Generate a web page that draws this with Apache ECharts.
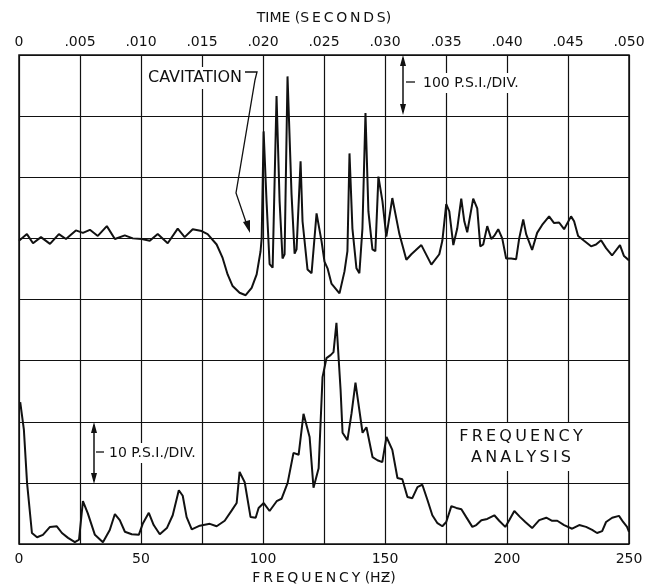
<!DOCTYPE html>
<html>
<head>
    <meta charset="utf-8">
    <title>Cavitation pressure trace</title>
    <script src="https://cdn.jsdelivr.net/npm/echarts@6/dist/echarts.min.js"></script>
    <style type="text/css">
        html, body { margin: 0; padding: 0; background: #fff; }
        #main { width: 648px; height: 585px; }
    </style>
</head>
<body>
    <div id="main"></div>
    <script type="text/javascript">
        // pressure vs time (seconds, psi) - upper trace
        var timeSec = [0, 0.00065, 0.00115, 0.0018, 0.00254, 0.00327, 0.00385, 0.00466, 0.00524, 0.00581,
            0.00646, 0.0072, 0.00786, 0.00867, 0.00933, 0.01007, 0.01072, 0.01137, 0.01219, 0.01301,
            0.01358, 0.01424, 0.01497, 0.01546, 0.0162, 0.01669, 0.0171, 0.01751, 0.01808, 0.01858,
            0.01907, 0.01948, 0.0198, 0.01989, 0.02005, 0.02029, 0.02054, 0.02079, 0.02111, 0.02136,
            0.0216, 0.02177, 0.02201, 0.02234, 0.02259, 0.02275, 0.02308, 0.02324, 0.02365, 0.02398,
            0.02439, 0.0248, 0.02504, 0.02529, 0.02561, 0.02627, 0.02668, 0.02692, 0.02709, 0.02733,
            0.02766, 0.0279, 0.02815, 0.0284, 0.02864, 0.02897, 0.02921, 0.02946, 0.02979, 0.03011,
            0.0306, 0.03118, 0.03175, 0.03216, 0.03249, 0.03298, 0.0338, 0.03445, 0.0347, 0.03502,
            0.03527, 0.0356, 0.03592, 0.03625, 0.0365, 0.03674, 0.03723, 0.03756, 0.03781, 0.03805,
            0.03838, 0.03871, 0.03895, 0.03928, 0.03961, 0.03993, 0.04034, 0.04075, 0.041, 0.04133,
            0.04157, 0.04206, 0.04247, 0.04288, 0.04345, 0.04386, 0.04427, 0.04468, 0.04525, 0.0455,
            0.04583, 0.04632, 0.04689, 0.0473, 0.04771, 0.04812, 0.04861, 0.04926, 0.04959, 0.050];
        var timePsi = [-4, 7, -8, 2, -9, 7, -1, 13, 9, 14,
            4, 20, -1, 5, 0, -1, -4, 7, -8, 16,
            2, 15, 12, 7, -10, -32, -59, -78, -89, -93,
            -81, -59, -21, 0, 175, 61, -42, -48, 233, 61,
            -33, -26, 265, 72, -25, -18, 126, 28, -51, -57,
            41, -5, -38, -49, -74, -90, -54, -21, 139, 16,
            -49, -57, 16, 205, 44, -18, -21, 101, 61, 3,
            66, 7, -35, -26, -20, -11, -43, -26, -4, 56,
            44, -11, 16, 65, 28, 10, 65, 49, -13, -10,
            20, -1, 4, 15, 0, -33, -33, -34, 0, 31,
            7, -19, 9, 22, 36, 25, 26, 15, 36, 28,
            4, -4, -13, -10, -3, -16, -28, -11, -29, -36];

        // frequency analysis (Hz, psi) - lower trace
        var freqHz = [0.5, 2.0, 3.3, 5.3, 7.4, 9.8, 12.7, 15.5, 17.6, 20.1,
            22.9, 24.6, 26.2, 28.2, 31.1, 34.4, 37.2, 39.3, 41.3, 43.4,
            46.2, 49.1, 50.7, 53.2, 55.2, 57.7, 60.6, 63.0, 65.5, 67.1,
            68.7, 70.8, 74.1, 78.2, 81.0, 84.3, 87.2, 89.2, 90.4, 92.5,
            94.9, 97.0, 98.2, 100.3, 102.7, 105.6, 107.6, 110.1, 112.5, 114.6,
            116.6, 119.1, 120.7, 122.8, 124.4, 126.0, 127.7, 128.9, 130.1, 131.8,
            132.6, 134.6, 136.3, 137.9, 139.1, 140.8, 142.4, 144.9, 146.9, 148.9,
            150.6, 153.0, 155.1, 157.1, 159.2, 161.2, 163.3, 165.3, 167.4, 169.4,
            171.5, 173.5, 175.1, 177.2, 179.2, 181.3, 183.3, 185.8, 187.4, 189.5,
            191.9, 194.8, 196.8, 199.3, 200.9, 203.0, 205.4, 207.5, 210.3, 213.2,
            216.1, 218.5, 220.6, 223.4, 226.7, 229.6, 232.4, 234.9, 236.9, 239.0,
            240.6, 243.1, 245.9, 247.6, 249.2, 250];
        var freqPsi = [23.2, 18.7, 10, 1.8, 1.1, 1.5, 2.8, 2.9, 1.8, 1.0,
            0.3, 0.7, 7, 5, 1.5, 0.3, 2.3, 4.9, 3.9, 2,
            1.6, 1.5, 3.3, 5.1, 3.1, 1.6, 2.6, 4.7, 8.8, 7.9,
            4.4, 2.4, 3, 3.3, 2.9, 3.8, 5.5, 6.7, 11.8, 10.1,
            4.4, 4.3, 5.9, 6.7, 5.4, 7, 7.4, 10, 14.9, 14.6,
            21.3, 17.5, 9.2, 12.4, 27.3, 30.4, 30.9, 31.4, 36.2, 25.2,
            18.2, 17, 21.4, 26.4, 23, 18.2, 19.1, 14.2, 13.7, 13.4,
            17.5, 15.4, 10.8, 10.6, 7.7, 7.5, 9.3, 9.7, 7.2, 4.7,
            3.4, 2.9, 3.6, 6.2, 5.9, 5.7, 4.4, 2.8, 3.1, 3.9,
            4.1, 4.7, 3.8, 2.8, 3.9, 5.4, 4.4, 3.6, 2.6, 3.9,
            4.3, 3.8, 3.8, 3.1, 2.5, 3.1, 2.8, 2.3, 1.8, 2.1,
            3.6, 4.3, 4.6, 3.6, 2.8, 2.0];

        var chart = echarts.init(document.getElementById('main'));
        var fnt = 'DejaVu Sans';
        var ink = '#111';

        function pairs(xs, ys) {
            return xs.map(function (v, i) { return [v, ys[i]]; });
        }
        // lettering on the original is spread out a bit
        function spread(s) {
            return s.split('').join('\u2009');
        }

        var option = {
            backgroundColor: '#fff',
            animation: false,
            grid: {
                left: 19, right: 19, top: 55, bottom: 41,
                outerBoundsMode: 'none',
                show: true, borderColor: ink, borderWidth: 1.5
            },
            xAxis: [{
                type: 'value',
                position: 'top',
                min: 0, max: 0.05, interval: 0.005,
                name: 'TIME (' + spread('SECONDS') + ')',
                nameLocation: 'middle',
                nameGap: 30,
                nameTextStyle: { color: ink, fontFamily: fnt, fontSize: 14 },
                axisLine: { show: false },
                axisTick: { show: false },
                axisLabel: {
                    color: ink, fontFamily: fnt, fontSize: 14, margin: 6,
                    formatter: function (v) {
                        if (v === 0) return '0';
                        var s = String(Math.round(v * 1000));
                        while (s.length < 3) s = '0' + s;
                        return '.' + s;
                    }
                },
                splitLine: { show: true, lineStyle: { color: ink, width: 1.2 } }
            }, {
                type: 'value',
                position: 'bottom',
                min: 0, max: 250, interval: 25,
                name: spread('FREQUENCY') + ' (H\u01B5)',
                nameLocation: 'middle',
                nameGap: 26,
                nameTextStyle: { color: ink, fontFamily: fnt, fontSize: 14 },
                axisLine: { show: false },
                axisTick: { show: false },
                axisLabel: {
                    color: ink, fontFamily: fnt, fontSize: 14, margin: 8,
                    formatter: function (v) { return v % 50 === 0 ? String(v) : ''; }
                },
                splitLine: { show: false }
            }],
            yAxis: [{
                type: 'value',
                min: -500, max: 300, interval: 100,
                axisLine: { show: false },
                axisTick: { show: false },
                axisLabel: { show: false },
                splitLine: { show: true, lineStyle: { color: ink, width: 1.2 } }
            }, {
                type: 'value',
                min: 0, max: 80, interval: 10,
                axisLine: { show: false },
                axisTick: { show: false },
                axisLabel: { show: false },
                splitLine: { show: false }
            }],
            series: [{
                name: 'pressure',
                type: 'line',
                xAxisIndex: 0, yAxisIndex: 0,
                data: pairs(timeSec, timePsi),
                showSymbol: false,
                lineStyle: { color: ink, width: 2 },
                z: 5
            }, {
                name: 'spectrum',
                type: 'line',
                xAxisIndex: 1, yAxisIndex: 1,
                data: pairs(freqHz, freqPsi),
                showSymbol: false,
                lineStyle: { color: ink, width: 2 },
                z: 5
            }],
            graphic: [
                // cavitation callout
                { type: 'text', z: 50, style: { text: 'CAVITATION', x: 146, y: 78, font: '16px ' + fnt, fill: ink, textVerticalAlign: 'middle', backgroundColor: '#fff', padding: [3, 2] } },
                { type: 'polyline', z: 50, shape: { points: [[245, 72], [257, 72], [255, 80], [236, 193], [248, 228]] }, style: { stroke: ink, lineWidth: 1.3, fill: null } },
                { type: 'polygon', z: 50, shape: { points: [[250, 233], [243, 222], [250, 220]] }, style: { fill: ink } },
                // 100 psi/div scale
                { type: 'line', z: 50, shape: { x1: 403, y1: 58, x2: 403, y2: 112 }, style: { stroke: ink, lineWidth: 1.5 } },
                { type: 'polygon', z: 50, shape: { points: [[403, 55], [400, 66], [406, 66]] }, style: { fill: ink } },
                { type: 'polygon', z: 50, shape: { points: [[403, 115], [400, 104], [406, 104]] }, style: { fill: ink } },
                { type: 'line', z: 50, shape: { x1: 406, y1: 82, x2: 415, y2: 82 }, style: { stroke: ink, lineWidth: 1.3 } },
                { type: 'text', z: 50, style: { text: '100 P.S.I./DIV.', x: 421, y: 83, font: '14px ' + fnt, fill: ink, textVerticalAlign: 'middle', backgroundColor: '#fff', padding: [3, 2] } },
                // 10 psi/div scale
                { type: 'line', z: 50, shape: { x1: 94, y1: 425, x2: 94, y2: 481 }, style: { stroke: ink, lineWidth: 1.5 } },
                { type: 'polygon', z: 50, shape: { points: [[94, 422], [91, 433], [97, 433]] }, style: { fill: ink } },
                { type: 'polygon', z: 50, shape: { points: [[94, 484], [91, 473], [97, 473]] }, style: { fill: ink } },
                { type: 'line', z: 50, shape: { x1: 96, y1: 452, x2: 104, y2: 452 }, style: { stroke: ink, lineWidth: 1.3 } },
                { type: 'text', z: 50, style: { text: '10 P.S.I./DIV.', x: 107, y: 453, font: '14px ' + fnt, fill: ink, textVerticalAlign: 'middle', backgroundColor: '#fff', padding: [3, 2] } },
                // frequency analysis title
                { type: 'text', z: 50, style: { text: spread('FREQUENCY') + '\n' + spread('ANALYSIS'), x: 521, y: 447, font: '16px ' + fnt, lineHeight: 21, fill: ink, textAlign: 'center', textVerticalAlign: 'middle', backgroundColor: '#fff', padding: [3, 3] } }
            ]
        };
        chart.setOption(option);
    </script>
</body>
</html>
